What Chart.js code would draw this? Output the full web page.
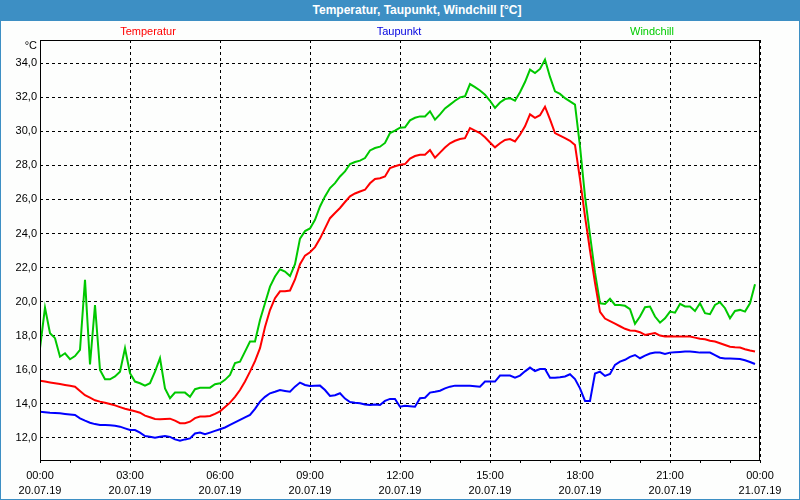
<!DOCTYPE html>
<html>
<head>
<meta charset="utf-8">
<script src="https://cdn.jsdelivr.net/npm/chart.js@4/dist/chart.umd.min.js"></script>
<style>
  html, body { margin: 0; padding: 0; background: #fff; }
  #wrap { position: relative; width: 800px; height: 500px; overflow: hidden; background: #fdfefd; }
  #c { position: absolute; left: 0; top: 0; }
  #titlebar { position: absolute; left: 0; top: 0; width: 800px; height: 21px; background: #3d8fc4;
    color: #fff; font: bold 12px "Liberation Sans", Arial, sans-serif; line-height: 21px; }
  #titlebar span { position: absolute; left: 417px; transform: translateX(-50%); white-space: nowrap; top: 0; }
  #frame { position: absolute; left: 0; top: 0; width: 800px; height: 500px; box-sizing: border-box;
    border: 1px solid #3d8fc4; pointer-events: none; }
</style>
</head>
<body>
<div id="wrap">
  <canvas id="c" width="800" height="500"></canvas>
  <div id="titlebar"><span>Temperatur, Taupunkt, Windchill [°C]</span></div>
  <div id="frame"></div>
</div>
<script>
// ---- data (one value every 10 minutes, 20.07.19 00:00 .. 23:50) ----
const STEP_MIN = 10;
const seriesNames = ["Temperatur", "Taupunkt", "Windchill"];
const unitLabel = "°C";

const temperatur = [
  15.35,15.3,15.25,15.2,15.15,15.1,15.05,15.0,14.75,14.5,14.35,14.2,
  14.12,14.05,13.98,13.9,13.8,13.7,13.63,13.55,13.47,13.3,13.2,13.1,
  13.08,13.1,13.12,13.0,12.85,12.85,12.94,13.15,13.25,13.25,13.28,13.4,
  13.55,13.8,14.06,14.4,14.8,15.3,15.88,16.5,17.26,18.5,19.5,20.2,
  20.6,20.6,20.65,21.3,22.2,22.7,22.9,23.2,23.7,24.3,24.9,25.2,
  25.5,25.85,26.18,26.35,26.47,26.57,26.95,27.2,27.25,27.35,27.85,27.95,
  28.04,28.08,28.4,28.55,28.63,28.63,28.9,28.45,28.75,29.05,29.3,29.45,
  29.55,29.6,30.2,30.05,29.9,29.65,29.35,29.06,29.3,29.5,29.55,29.41,
  29.8,30.3,31.0,30.8,30.95,31.45,30.7,29.9,29.75,29.6,29.45,29.2,
  27.2,25.0,23.0,21.1,19.4,19.0,18.85,18.7,18.55,18.4,18.3,18.28,
  18.2,18.04,18.1,18.15,18.0,17.95,17.96,17.95,17.95,17.95,17.94,17.88,
  17.82,17.78,17.7,17.65,17.55,17.45,17.35,17.32,17.3,17.2,17.12,17.06
];
const taupunkt = [
  13.53,13.5,13.47,13.45,13.43,13.4,13.37,13.34,13.14,13.0,12.88,12.8,
  12.75,12.74,12.73,12.7,12.65,12.55,12.45,12.45,12.3,12.1,12.05,12.0,
  12.05,12.1,12.05,11.9,11.82,11.9,11.96,12.25,12.3,12.2,12.3,12.4,
  12.5,12.6,12.75,12.9,13.05,13.2,13.34,13.7,14.12,14.4,14.61,14.7,
  14.8,14.75,14.7,15.0,15.24,15.1,15.04,15.05,15.06,14.8,14.45,14.5,
  14.61,14.3,14.1,14.05,14.02,13.95,13.92,13.95,13.92,14.16,14.28,14.28,
  13.82,13.88,13.85,13.82,14.32,14.35,14.65,14.7,14.76,14.9,15.0,15.06,
  15.06,15.06,15.06,15.03,15.0,15.3,15.3,15.3,15.65,15.65,15.65,15.53,
  15.65,15.9,16.12,15.92,16.04,16.04,15.53,15.53,15.55,15.6,15.73,15.45,
  14.9,14.16,14.16,15.77,15.88,15.63,15.75,16.28,16.47,16.58,16.75,16.86,
  16.67,16.82,16.95,17.0,17.0,16.92,17.0,17.02,17.04,17.06,17.06,17.04,
  17.0,17.0,17.0,16.85,16.7,16.66,16.65,16.64,16.63,16.55,16.45,16.33
];
const windchill = [
  17.26,19.65,18.14,17.85,16.76,16.96,16.61,16.8,17.16,21.28,16.3,19.8,
  15.98,15.43,15.43,15.6,15.88,17.26,15.79,15.3,15.2,15.06,15.2,15.88,
  16.67,14.9,14.32,14.65,14.65,14.65,14.41,14.85,14.94,14.94,14.94,15.14,
  15.2,15.4,15.69,16.38,16.47,17.06,17.65,17.65,18.92,19.9,20.88,21.47,
  21.9,21.76,21.5,22.2,23.7,24.14,24.3,24.8,25.59,26.18,26.67,26.96,
  27.35,27.65,28.08,28.2,28.28,28.43,28.88,29.02,29.1,29.32,29.9,30.04,
  30.22,30.24,30.65,30.8,30.88,30.88,31.18,30.69,31.0,31.35,31.57,31.8,
  32.0,32.06,32.78,32.6,32.4,32.16,31.8,31.38,31.7,31.9,31.95,31.8,
  32.3,32.9,33.63,33.43,33.67,34.22,33.2,32.35,32.2,31.95,31.76,31.57,
  29.12,26.18,23.9,21.7,19.9,19.86,20.16,19.8,19.8,19.75,19.55,18.69,
  19.12,19.67,19.71,19.12,18.76,19.02,19.41,19.35,19.86,19.71,19.71,19.45,
  19.9,19.32,19.26,19.8,19.96,19.61,19.02,19.45,19.51,19.41,19.9,21.02
];

const tickTimes = ["00:00","03:00","06:00","09:00","12:00","15:00","18:00","21:00","00:00"];
const tickDates = ["20.07.19","20.07.19","20.07.19","20.07.19","20.07.19","20.07.19","20.07.19","20.07.19","21.07.19"];
const yTicks = [12,14,16,18,20,22,24,26,28,30,32,34];

// ---- chart ----
const colors = ["#ff0000", "#0000ff", "#00c800"];
const legendColors = ["#ff0000", "#0000e0", "#00cc00"];
const FONT = '"Liberation Sans", Arial, sans-serif';

function toPoints(arr) { return arr.map((v, i) => ({ x: i * STEP_MIN, y: v })); }

const extras = {
  id: 'extras',
  afterDraw(chart) {
    const ctx = chart.ctx, a = chart.chartArea;
    ctx.save();
    ctx.strokeStyle = '#000';
    ctx.lineWidth = 1;
    ctx.setLineDash([]);
    ctx.strokeRect(Math.round(a.left) + 0.5, Math.round(a.top) + 0.5,
                   Math.round(a.right - a.left) - 1, Math.round(a.bottom - a.top));
    ctx.font = '11px ' + FONT;
    ctx.textBaseline = 'middle';
    ctx.fillStyle = '#000';
    ctx.textAlign = 'right';
    ctx.fillText(unitLabel, 37, 46);
    const centers = [148, 399, 652];
    ctx.textAlign = 'center';
    chart.data.datasets.forEach((ds, i) => {
      ctx.fillStyle = legendColors[i];
      ctx.fillText(ds.label, centers[i], 32);
    });
    ctx.restore();
  }
};

new Chart(document.getElementById('c'), {
  type: 'line',
  data: {
    datasets: [
      { label: seriesNames[0], data: toPoints(temperatur), borderColor: colors[0] },
      { label: seriesNames[1], data: toPoints(taupunkt), borderColor: colors[1] },
      { label: seriesNames[2], data: toPoints(windchill), borderColor: colors[2] }
    ]
  },
  options: {
    responsive: false,
    animation: false,
    devicePixelRatio: 1,
    layout: { padding: { left: 0, right: 40, top: 40, bottom: 0 } },
    elements: {
      line: { borderWidth: 2, tension: 0, fill: false },
      point: { radius: 0, hoverRadius: 0 }
    },
    plugins: { legend: { display: false }, tooltip: { enabled: false }, title: { display: false } },
    scales: {
      x: {
        type: 'linear',
        min: 0, max: 1440,
        afterFit(scale) { scale.height = 40; },
        border: { display: false, dash: [3, 3] },
        grid: {
          color: (c) => (c.tick && c.tick.value % 180 === 0) ? '#000' : 'rgba(0,0,0,0)',
          tickColor: '#000',
          tickBorderDash: [],
          tickLength: 3,
          lineWidth: 1
        },
        ticks: {
          stepSize: 60,
          autoSkip: false,
          maxRotation: 0,
          padding: 5,
          color: '#000',
          font: { family: FONT, size: 11, lineHeight: 1.4 },
          callback: (v) => (v % 180 === 0) ? [tickTimes[v / 180], tickDates[v / 180]] : ''
        }
      },
      y: {
        type: 'linear',
        min: 10.69, max: 35.37,
        afterFit(scale) { scale.width = 40; },
        afterBuildTicks(scale) { scale.ticks = yTicks.map(v => ({ value: v })); },
        border: { display: false, dash: [3, 3] },
        grid: {
          color: '#000',
          drawTicks: false,
          lineWidth: 1
        },
        ticks: {
          padding: 3,
          color: '#000',
          font: { family: FONT, size: 11 },
          callback: (v) => v.toFixed(1).replace('.', ',')
        }
      }
    }
  },
  plugins: [extras]
});
</script>
</body>
</html>
